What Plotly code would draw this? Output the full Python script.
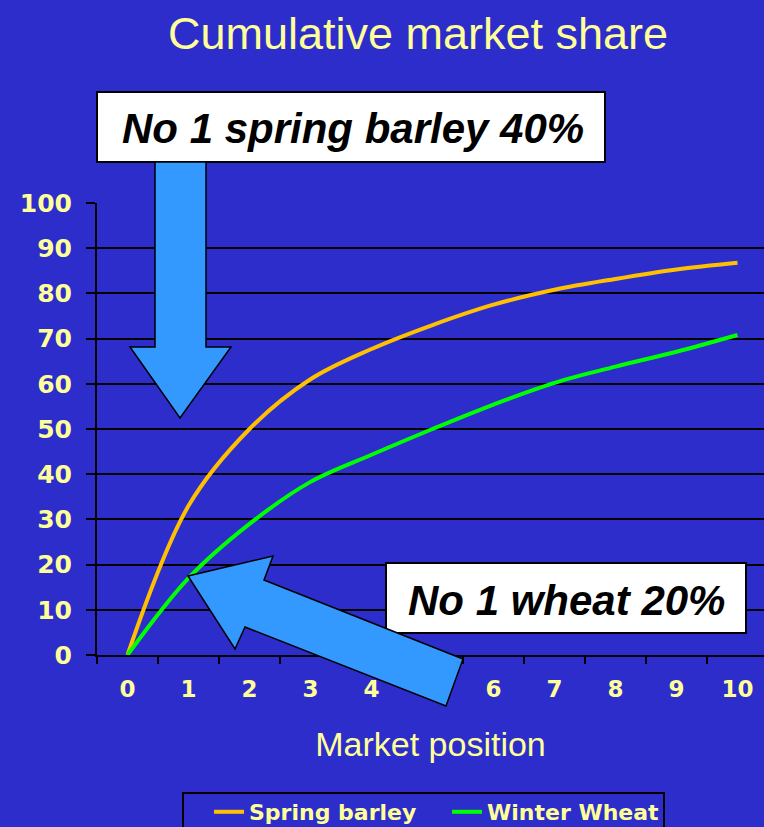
import plotly.graph_objects as go

# ---- data ----
positions = ["0", "1", "2", "3", "4", "5", "6", "7", "8", "9", "10"]
spring_barley = [0, 33, 50, 61, 67.7, 73, 77.5, 80.8, 83.2, 85.3, 86.8]
winter_wheat = [0, 17, 29, 38.3, 44.3, 50, 55.4, 60.2, 63.8, 67.1, 70.8]
y_ticks = [0, 10, 20, 30, 40, 50, 60, 70, 80, 90, 100]

title_text = "Cumulative market share"
x_title = "Market position"
note_barley = "No 1 spring barley 40%"
note_wheat = "No 1 wheat 20%"

# ---- layout geometry ----
W, H = 764, 827
ML, MR, MT, MB = 97, 0, 203, 172
PW, PH = W - ML - MR, H - MT - MB

def px(x):
    return (x - ML) / PW

def py(y):
    return (H - MB - y) / PH

BG = "#2d2dcc"
YEL = "#ffff99"
ARROW = "#3399ff"
FONT = "Liberation Sans, Arial, sans-serif"
WIDE = "DejaVu Sans, Verdana, sans-serif"

fig = go.Figure()
fig.add_trace(go.Scatter(x=positions, y=spring_barley, name="Spring barley",
                         mode="lines", line=dict(color="#ffc000", width=4, shape="spline")))
fig.add_trace(go.Scatter(x=positions, y=winter_wheat, name="Winter Wheat",
                         mode="lines", line=dict(color="#00ff00", width=4, shape="spline")))

def poly(points):
    return "M " + " L ".join(f"{px(a):.5f},{py(b):.5f}" for a, b in points) + " Z"

shapes = []
# note boxes
shapes.append(dict(type="rect", xref="paper", yref="paper",
                   x0=px(97), x1=px(605), y0=py(92), y1=py(162),
                   fillcolor="white", line=dict(color="black", width=2), layer="above"))
shapes.append(dict(type="rect", xref="paper", yref="paper",
                   x0=px(386), x1=px(746), y0=py(563), y1=py(633),
                   fillcolor="white", line=dict(color="black", width=2), layer="above"))
# arrows
top_arrow = [(155, 162), (206, 162), (206, 347), (231, 347), (180, 418), (130, 347), (155, 347)]
bot_arrow = [(188, 576), (273, 556), (264, 580), (463, 659), (446, 706), (245, 627), (235, 649)]
for pts in (top_arrow, bot_arrow):
    shapes.append(dict(type="path", xref="paper", yref="paper", path=poly(pts),
                       fillcolor=ARROW, line=dict(color="black", width=1.5), layer="above"))
# legend frame
shapes.append(dict(type="rect", xref="paper", yref="paper",
                   x0=px(183), x1=px(664), y0=py(793), y1=py(840),
                   fillcolor="rgba(0,0,0,0)", line=dict(color="black", width=2), layer="above"))

annotations = [
    dict(text=f"<b><i>{note_barley}</i></b>", xref="paper", yref="paper",
         x=px(353), y=py(128), showarrow=False, xanchor="center", yanchor="middle",
         font=dict(family=FONT, size=42, color="black")),
    dict(text=f"<b><i>{note_wheat}</i></b>", xref="paper", yref="paper",
         x=px(566), y=py(600), showarrow=False, xanchor="center", yanchor="middle",
         font=dict(family=FONT, size=42, color="black")),
]

fig.update_layout(
    width=W, height=H,
    margin=dict(l=ML, r=MR, t=MT, b=MB, autoexpand=False),
    paper_bgcolor=BG, plot_bgcolor=BG,
    title=dict(text=title_text, x=418 / W, xref="container", xanchor="center",
               y=1 - 33 / H, yref="container", yanchor="middle",
               font=dict(family=FONT, size=45, color=YEL)),
    shapes=shapes, annotations=annotations,
    showlegend=True,
    legend=dict(orientation="h", x=px(209), y=py(791), xanchor="left", yanchor="top",
                bgcolor="rgba(0,0,0,0)", borderwidth=0,
                font=dict(family=WIDE, size=22, color=YEL, weight="bold"),
                entrywidth=193, entrywidthmode="pixels", tracegroupgap=0),
)

fig.update_xaxes(
    type="category", range=[-0.5, (W - 127.5) / 61], tickson="boundaries",
    ticks="outside", ticklen=7, tickwidth=1.5, tickcolor="black",
    showline=True, linecolor="black", linewidth=2, showgrid=False, zeroline=False,
    tickfont=dict(family=WIDE, size=23, color=YEL, weight="bold"),
    ticklabelstandoff=12,
    title=dict(text=x_title, font=dict(family=FONT, size=34, color=YEL), standoff=32),
)
fig.update_yaxes(
    range=[0, 100], tickvals=y_ticks, ticktext=[str(v) for v in y_ticks],
    ticks="outside", ticklen=9, tickwidth=1.5, tickcolor="black",
    showline=True, linecolor="black", linewidth=2,
    showgrid=True, gridcolor="black", gridwidth=1.5, zeroline=False,
    tickfont=dict(family=WIDE, size=25, color=YEL, weight="bold"),
    ticklabelstandoff=9,
)

fig.write_html("out.html", config={"displayModeBar": False},
               post_script="document.body.style.margin='0';document.body.style.overflow='hidden';")
